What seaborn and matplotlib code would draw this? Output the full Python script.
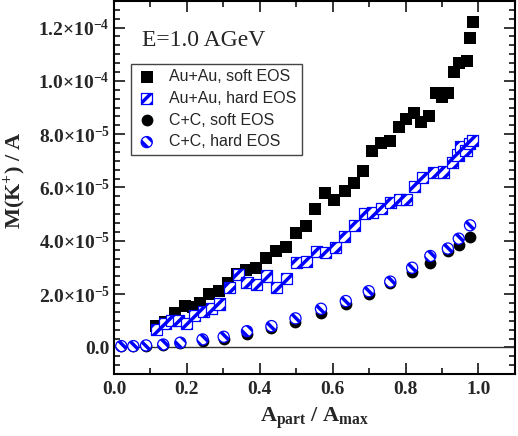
import matplotlib
matplotlib.use("Agg")
import matplotlib.pyplot as plt
import seaborn as sns
from matplotlib.ticker import AutoMinorLocator, FixedLocator, FixedFormatter

# kaon multiplicity per nucleon, values in units of 1e-5
SCALE = 1e-5

au_soft_x = [0.115, 0.140, 0.167, 0.195, 0.218, 0.236, 0.260, 0.287, 0.313, 0.337,
             0.363, 0.391, 0.418, 0.444, 0.471, 0.499, 0.526, 0.552, 0.580, 0.605,
             0.633, 0.658, 0.683, 0.709, 0.733, 0.758, 0.782, 0.802, 0.822, 0.843,
             0.864, 0.884, 0.900, 0.916, 0.932, 0.948, 0.969, 0.977, 0.986]
au_soft_y = [0.80, 0.95, 1.30, 1.55, 1.52, 1.68, 1.99, 2.10, 2.43, 2.75,
             2.90, 2.99, 3.37, 3.63, 3.76, 4.31, 4.54, 5.20, 5.79, 5.54,
             5.85, 6.18, 6.62, 7.35, 7.68, 7.74, 8.28, 8.58, 8.78, 8.45,
             8.68, 9.56, 9.41, 9.56, 10.33, 10.66, 10.74, 11.62, 12.21]

au_hard_x = [0.117, 0.140, 0.158, 0.176, 0.198, 0.221, 0.245, 0.268, 0.290, 0.316,
             0.341, 0.365, 0.391, 0.418, 0.446, 0.473, 0.501, 0.528, 0.555, 0.581,
             0.608, 0.633, 0.660, 0.687, 0.710, 0.733, 0.759, 0.783, 0.803, 0.825,
             0.847, 0.878, 0.904, 0.930, 0.944, 0.950, 0.966, 0.975, 0.984]
au_hard_y = [0.68, 0.90, 1.00, 1.02, 0.90, 1.19, 1.36, 1.45, 1.63, 2.26,
             2.74, 2.43, 2.36, 2.68, 2.24, 2.58, 3.18, 3.24, 3.61, 3.55,
             3.74, 4.15, 4.58, 5.02, 5.05, 5.20, 5.43, 5.55, 5.55, 6.05,
             6.38, 6.56, 6.58, 6.93, 7.22, 7.55, 7.40, 7.65, 7.77]

cc_x = [0.020, 0.053, 0.088, 0.135, 0.182, 0.243, 0.301, 0.365, 0.432, 0.498,
        0.568, 0.636, 0.699, 0.758, 0.818, 0.868, 0.916, 0.946, 0.977]
cc_soft_y = [0.04, 0.04, 0.06, 0.09, 0.15, 0.24, 0.32, 0.52, 0.74, 0.95,
             1.30, 1.62, 2.02, 2.40, 2.82, 3.18, 3.62, 3.85, 4.13]
cc_hard_y = [0.05, 0.05, 0.075, 0.11, 0.18, 0.30, 0.40, 0.61, 0.80, 1.09,
             1.45, 1.74, 2.11, 2.47, 2.99, 3.43, 3.71, 4.08, 4.58]

series_labels = ["Au+Au, soft EOS", "Au+Au, hard EOS", "C+C, soft EOS", "C+C, hard EOS"]

xtick_vals = [0.0, 0.2, 0.4, 0.6, 0.8, 1.0]
xtick_labels = ["0.0", "0.2", "0.4", "0.6", "0.8", "1.0"]
ytick_vals = [0, 2e-5, 4e-5, 6e-5, 8e-5, 1e-4, 1.2e-4]
ytick_labels = ["0.0", r"$2.0{\times}10^{-5}$", r"$4.0{\times}10^{-5}$", r"$6.0{\times}10^{-5}$",
                r"$8.0{\times}10^{-5}$", r"$1.0{\times}10^{-4}$", r"$1.2{\times}10^{-4}$"]

sns.set_style("ticks")
plt.rcParams.update({
    "font.family": ["Liberation Serif", "DejaVu Serif"],
    "mathtext.fontset": "custom",
    "mathtext.rm": "Liberation Serif:bold",
    "mathtext.bf": "Liberation Serif:bold",
    "mathtext.it": "Liberation Serif:bold:italic",
    "mathtext.default": "rm",
    "hatch.linewidth": 2.5,
    "axes.linewidth": 1.5,
})

fig = plt.figure(figsize=(5.18, 4.36), dpi=100)
ax = fig.add_axes([0.220, 0.142, 0.774, 0.856])

ax.axhline(0, color="#333333", lw=1.0, zorder=1)

def scaled(vals):
    return [v * SCALE for v in vals]

sns.scatterplot(x=au_soft_x, y=scaled(au_soft_y), marker="s", s=72, color="black",
                edgecolor="black", linewidth=0, label=series_labels[0], ax=ax, zorder=3)
sns.scatterplot(x=au_hard_x, y=scaled(au_hard_y), marker="s", s=64, color="white",
                edgecolor="blue", linewidth=0.9, hatch="///", label=series_labels[1],
                ax=ax, zorder=4)
sns.scatterplot(x=cc_x, y=scaled(cc_soft_y), marker="o", s=72, color="black",
                edgecolor="black", linewidth=0, label=series_labels[2], ax=ax, zorder=5)
sns.scatterplot(x=cc_x, y=scaled(cc_hard_y), marker="o", s=64, color="white",
                edgecolor="blue", linewidth=0.9, hatch="\\\\\\", label=series_labels[3],
                ax=ax, zorder=6)

ax.set_xlim(0, 1.1)
ax.set_ylim(-1e-5, 1.3e-4)

ax.xaxis.set_major_locator(FixedLocator(xtick_vals))
ax.xaxis.set_major_formatter(FixedFormatter(xtick_labels))
ax.yaxis.set_major_locator(FixedLocator(ytick_vals))
ax.yaxis.set_major_formatter(FixedFormatter(ytick_labels))
ax.xaxis.set_minor_locator(AutoMinorLocator(2))
ax.yaxis.set_minor_locator(AutoMinorLocator(6))

ax.tick_params(which="both", direction="in", top=True, right=True, width=1.1, color="black")
ax.tick_params(which="major", length=8)
ax.tick_params(which="minor", length=4.5)
ax.tick_params(axis="x", pad=5)
ax.tick_params(axis="y", pad=3)
for lab in ax.get_xticklabels() + ax.get_yticklabels():
    lab.set_fontsize(14)
    lab.set_fontweight("bold")

for sp in ax.spines.values():
    sp.set_color("black")
    sp.set_linewidth(1.5)

ax.set_xlabel(r"A$_{part}$ / A$_{max}$", fontsize=16, fontweight="bold")
ax.set_ylabel(r"M(K$^{+}$) / A", fontsize=16, fontweight="bold")
ax.xaxis.set_label_coords(0.5, -0.085)
ax.yaxis.set_label_coords(-0.215, 0.52)

ax.text(0.07, 0.895, "E=1.0 AGeV", transform=ax.transAxes, fontsize=17,
        va="center", ha="left")

leg = ax.legend(loc="upper left", bbox_to_anchor=(0.0425, 0.832), borderaxespad=0,
                prop={"family": "Liberation Sans", "size": 11.5}, frameon=True,
                fancybox=False, framealpha=1, edgecolor="#444444", borderpad=0.35,
                labelspacing=0.42, handlelength=1.27, handletextpad=0.74)
leg.get_frame().set_linewidth(1.0)

fig.savefig("out.png", dpi=100)
